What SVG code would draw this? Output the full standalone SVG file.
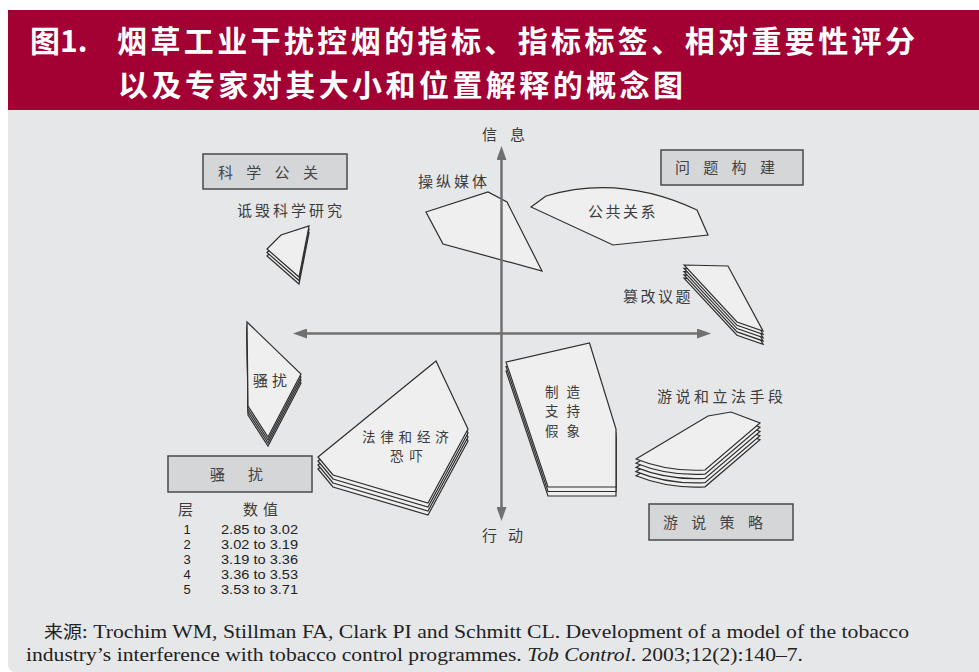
<svg xmlns="http://www.w3.org/2000/svg" width="979" height="672" viewBox="0 0 979 672">
<style>
.cjk{font-family:"Noto Sans CJK SC","Noto Sans",sans-serif}
.title{font-family:"Noto Sans CJK SC",sans-serif;font-size:30px;font-weight:bold;fill:#ffffff}
.lbl{font-family:"Noto Sans CJK SC",sans-serif;font-size:15px;fill:#3c3c3c}
.sm{font-size:13.5px}
.box{fill:#d5d6d8;stroke:#4a4a4a;stroke-width:1.5}
.bt{font-family:"Noto Sans CJK SC",sans-serif;font-size:15px;fill:#444444;letter-spacing:13.3px}
.shp{fill:#efeff0;stroke:#2e2e2e;stroke-width:1.2;stroke-linejoin:miter}
.axis{stroke:#707070;stroke-width:2;fill:none}
.num{font-family:"Liberation Sans",Arial,sans-serif;font-size:13px;fill:#222222}
.src{font-family:"Liberation Serif","Times New Roman",serif;font-size:19.5px;fill:#222222}
</style>
<defs>
<marker id="ah" viewBox="0 0 14 10" refX="1" refY="5" markerWidth="14" markerHeight="10" markerUnits="userSpaceOnUse" orient="auto">
<path d="M0,0 L14,5 L0,10 Z" fill="#707070"/>
</marker>
<path id="pA" d="M267,249 L281,235 L309,226 L299,277 Z"/>
<path id="pB" d="M684,265 L728,266 L763,331 L737,322 Z"/>
<path id="pC" d="M247,322 L301,374 L268,437 L248,406 Z"/>
<path id="pD" d="M318,457 L436,361 L468,429 L428,503 L333,475 Z"/>
<path id="pE" d="M506,362 L589.5,343 L616,429 L616,487 L548,487 Z"/>
<path id="pF" d="M636,459 L708,416 L731,412 L760,423 L705,470 Q668,472 636,459 Z"/>
</defs>

<rect x="0" y="0" width="979" height="672" fill="#ffffff"/>
<path d="M8,110 H979 V672 H16 Q8,672 8,664 Z" fill="#e6e7e9"/>

<g id="header">
<rect x="8" y="10" width="971" height="100" fill="#a30034"/>
<text class="title" x="30" y="52">图1.</text>
<text class="title" x="117" y="52" textLength="798" lengthAdjust="spacing">烟草工业干扰控烟的指标、指标标签、相对重要性评分</text>
<text class="title" x="118" y="96" textLength="565" lengthAdjust="spacing">以及专家对其大小和位置解释的概念图</text>
</g>

<g id="cat-science-pr">
<rect class="box" x="203" y="154" width="144" height="35"/>
<text class="bt" x="218" y="177.5">科学公关</text>
</g>
<g id="cat-issue-framing">
<rect class="box" x="661" y="150" width="142" height="35"/>
<text class="bt" x="675" y="172.5">问题构建</text>
</g>
<g id="cat-harassment">
<rect class="box" x="168" y="456" width="144" height="36"/>
<text class="bt" x="210" y="479.5" style="letter-spacing:23px">骚扰</text>
</g>
<g id="cat-lobbying">
<rect class="box" x="649" y="504" width="144" height="36"/>
<text class="bt" x="663" y="527.5">游说策略</text>
</g>

<g id="node-discredit-science">
<use href="#pA" class="shp" transform="translate(0,7)"/>
<use href="#pA" class="shp" transform="translate(0,3.5)"/>
<use href="#pA" class="shp"/>
<text class="lbl" x="237" y="215.5" style="letter-spacing:3px">诋毁科学研究</text>
</g>

<g id="node-media">
<path class="shp" d="M426,212 L488,192 L507,202 L542,271 L443,244 Z"/>
<text class="lbl" x="418" y="186.5" style="letter-spacing:3px">操纵媒体</text>
</g>

<g id="node-pr">
<path class="shp" d="M531,207 L546,196 Q620,174 697,210 L708,235 L613,245 Z"/>
<text class="lbl" x="588" y="217" style="letter-spacing:2.5px">公共关系</text>
</g>

<g id="node-issue-manipulation">
<use href="#pB" class="shp" transform="translate(0,13.2)"/>
<use href="#pB" class="shp" transform="translate(0,9.9)"/>
<use href="#pB" class="shp" transform="translate(0,6.6)"/>
<use href="#pB" class="shp" transform="translate(0,3.3)"/>
<use href="#pB" class="shp"/>
<text class="lbl" x="623" y="302" style="letter-spacing:2.5px">篡改议题</text>
</g>

<g id="node-harassment">
<use href="#pC" class="shp" transform="translate(0,9)"/>
<use href="#pC" class="shp" transform="translate(0,6)"/>
<use href="#pC" class="shp" transform="translate(0,3)"/>
<use href="#pC" class="shp"/>
<text class="lbl" x="253" y="385.5" style="letter-spacing:4px">骚扰</text>
</g>

<g id="node-intimidation">
<use href="#pD" class="shp" transform="translate(0,12)"/>
<use href="#pD" class="shp" transform="translate(0,8)"/>
<use href="#pD" class="shp" transform="translate(0,4)"/>
<use href="#pD" class="shp"/>
<text class="lbl sm" x="362" y="441.5" style="letter-spacing:4.8px">法律和经济</text>
<text class="lbl sm" x="390" y="461.2" style="letter-spacing:6px">恐吓</text>
</g>

<g id="node-false-support">
<use href="#pE" class="shp" transform="translate(0,9)"/>
<use href="#pE" class="shp" transform="translate(0,4.5)"/>
<use href="#pE" class="shp"/>
<text class="lbl sm" x="545" y="396.5" style="letter-spacing:8px">制造</text>
<text class="lbl sm" x="545" y="416.1" style="letter-spacing:8px">支持</text>
<text class="lbl sm" x="545" y="435.7" style="letter-spacing:8px">假象</text>
</g>

<g id="node-lobbying">
<use href="#pF" class="shp" transform="translate(0,16.8)"/>
<use href="#pF" class="shp" transform="translate(0,12.6)"/>
<use href="#pF" class="shp" transform="translate(0,8.4)"/>
<use href="#pF" class="shp" transform="translate(0,4.2)"/>
<use href="#pF" class="shp"/>
<text class="lbl" x="657" y="402" style="letter-spacing:3.5px">游说和立法手段</text>
</g>

<g id="connectors">
<line class="axis" x1="501.5" y1="508" x2="501.5" y2="159" marker-end="url(#ah)"/>
<line class="axis" x1="501.5" y1="159" x2="501.5" y2="508" marker-end="url(#ah)"/>
<line class="axis" x1="698" y1="333.5" x2="306" y2="333.5" marker-end="url(#ah)"/>
<line class="axis" x1="306" y1="333.5" x2="698" y2="333.5" marker-end="url(#ah)"/>
</g>

<g id="axis-labels">
<text class="lbl" x="482" y="139.5" style="letter-spacing:13px">信息</text>
<text class="lbl" x="482" y="540.5" style="letter-spacing:11px">行动</text>
</g>

<g id="legend">
<text class="lbl" x="178" y="514.5">层</text>
<text class="lbl" x="243" y="514.5" style="letter-spacing:5px">数值</text>
<text class="num" x="187" y="534" text-anchor="middle">1</text>
<text class="num" x="187" y="549" text-anchor="middle">2</text>
<text class="num" x="187" y="564" text-anchor="middle">3</text>
<text class="num" x="187" y="579" text-anchor="middle">4</text>
<text class="num" x="187" y="594" text-anchor="middle">5</text>
<text class="num" x="221" y="534" textLength="77" lengthAdjust="spacingAndGlyphs">2.85 to 3.02</text>
<text class="num" x="221" y="549" textLength="77" lengthAdjust="spacingAndGlyphs">3.02 to 3.19</text>
<text class="num" x="221" y="564" textLength="77" lengthAdjust="spacingAndGlyphs">3.19 to 3.36</text>
<text class="num" x="221" y="579" textLength="77" lengthAdjust="spacingAndGlyphs">3.36 to 3.53</text>
<text class="num" x="221" y="594" textLength="77" lengthAdjust="spacingAndGlyphs">3.53 to 3.71</text>
</g>

<g id="source">
<text class="src" x="44" y="638" textLength="865" lengthAdjust="spacingAndGlyphs"><tspan class="cjk" style="font-size:17px">来源</tspan>: Trochim WM, Stillman FA, Clark PI and Schmitt CL. Development of a model of the tobacco</text>
<text class="src" x="26" y="661" textLength="777" lengthAdjust="spacingAndGlyphs">industry’s interference with tobacco control programmes. <tspan font-style="italic">Tob Control</tspan>. 2003;12(2):140–7.</text>
</g>
</svg>
